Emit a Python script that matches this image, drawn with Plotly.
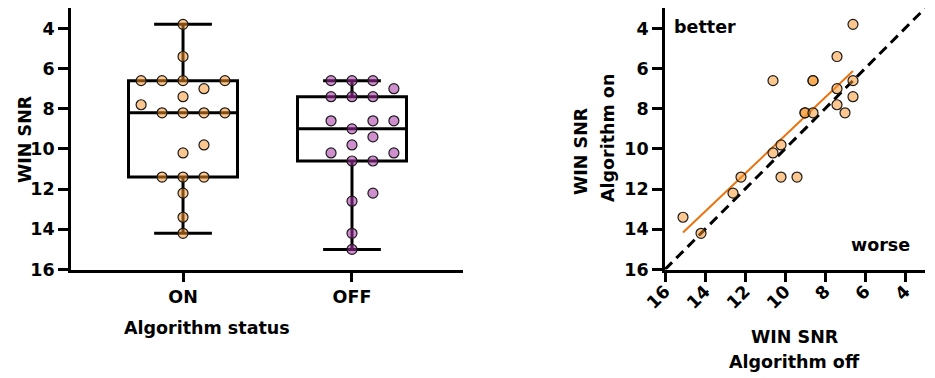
import numpy as np
import plotly.graph_objects as go

# ---------------- data ----------------
categories = ["ON", "OFF"]
on_values = [3.8, 5.4, 6.6, 6.6, 6.6, 6.6, 7.0, 7.4, 7.8, 8.2, 8.2, 8.2, 8.2,
             9.8, 10.2, 11.4, 11.4, 11.4, 12.2, 13.4, 14.2]
off_values = [6.6, 6.6, 6.6, 7.0, 7.4, 7.4, 7.4, 8.6, 8.6, 8.6, 9.0, 9.4, 9.8,
              10.2, 10.2, 10.6, 10.6, 12.2, 12.6, 14.2, 15.0]

# paired scores (x: algorithm off, y: algorithm on)
pair_off = [15.1, 14.2, 12.6, 12.2, 10.6, 10.2, 10.2, 9.4, 10.6, 9.0, 9.0, 8.6,
            8.6, 8.6, 7.4, 7.4, 7.4, 7.0, 6.6, 6.6, 6.6]
pair_on = [13.4, 14.2, 12.2, 11.4, 10.2, 9.8, 11.4, 11.4, 6.6, 8.2, 8.2, 8.2,
           6.6, 6.6, 5.4, 7.0, 7.8, 8.2, 3.8, 6.6, 7.4]

snr_ticks = [4, 6, 8, 10, 12, 14, 16]
identity_ends = [16, 3]

# ---------------- style ----------------
FONT = "DejaVu Sans"
FS = 17.5
ORANGE = "rgba(250,147,39,0.52)"
PURPLE = "rgba(167,48,167,0.54)"
EDGE = "#1a1a1a"
SWARM_STEP = 0.124      # horizontal slot spacing (category units)
SWARM_GAP = 0.55        # min vertical separation in same slot (SNR units)
BOX_WIDTH = 0.645


def swarm_offsets(values, step, gap):
    """Greedy bee-swarm: place points from largest value upward, nearest free slot."""
    vals = np.asarray(values, dtype=float)
    order = sorted(range(len(vals)), key=lambda i: (-vals[i], i))
    cands = [0]
    for k in range(1, 10):
        cands += [k, -k]
    placed = []
    offs = np.zeros(len(vals))
    for i in order:
        v = vals[i]
        for s in cands:
            if all(not (ps == s and abs(pv - v) < gap) for pv, ps in placed):
                placed.append((v, s))
                offs[i] = s * step
                break
    return offs


fig = go.Figure()

groups = [(0, on_values, ORANGE), (1, off_values, PURPLE)]
for pos, vals, col in groups:
    fig.add_trace(go.Box(
        y=vals, x0=pos, width=BOX_WIDTH, boxpoints=False,
        line=dict(color="black", width=3), fillcolor="rgba(0,0,0,0)",
        whiskerwidth=0.53, showlegend=False, hoverinfo="skip",
        xaxis="x", yaxis="y"))

for pos, vals, col in groups:
    offs = swarm_offsets(vals, SWARM_STEP, SWARM_GAP)
    fig.add_trace(go.Scatter(
        x=pos + offs, y=vals, mode="markers",
        marker=dict(size=10, color=col, line=dict(color=EDGE, width=1.2)),
        showlegend=False, xaxis="x", yaxis="y"))

# identity line
fig.add_trace(go.Scatter(
    x=identity_ends, y=identity_ends, mode="lines",
    line=dict(color="black", width=3, dash="10px,6px"),
    showlegend=False, xaxis="x2", yaxis="y2"))

# regression line
px_ = np.array(pair_off)
py_ = np.array(pair_on)
slope, icpt = np.polyfit(px_, py_, 1)
fx = np.array([px_.min(), px_.max()])
fig.add_trace(go.Scatter(
    x=fx, y=slope * fx + icpt, mode="lines",
    line=dict(color="#E8740F", width=2),
    showlegend=False, xaxis="x2", yaxis="y2"))

fig.add_trace(go.Scatter(
    x=pair_off, y=pair_on, mode="markers",
    marker=dict(size=10, color=ORANGE, line=dict(color=EDGE, width=1.2)),
    showlegend=False, xaxis="x2", yaxis="y2"))

W, H = 935, 378
tickfont = dict(family=FONT, size=FS, color="black", weight="bold")
axis_common = dict(showline=True, linecolor="black", linewidth=2.6,
                   ticks="outside", ticklen=10, tickwidth=2.6, tickcolor="black",
                   showgrid=False, zeroline=False, tickfont=tickfont,
                   fixedrange=True, automargin=False)

ydom = [1 - 269.5 / H, 1 - 8.3 / H]

fig.update_layout(
    width=W, height=H,
    margin=dict(l=0, r=0, t=0, b=0),
    paper_bgcolor="white", plot_bgcolor="white",
    xaxis=dict(domain=[71 / W, 463 / W], range=[-0.663, 1.657],
               tickvals=[0, 1], ticktext=categories, **axis_common),
    yaxis=dict(domain=ydom, range=[16, 3], tickvals=snr_ticks, **axis_common),
    xaxis2=dict(domain=[665 / W, 925 / W], range=[16, 3], tickvals=snr_ticks,
                tickangle=-45, anchor="y2", ticklabelstandoff=-8, **axis_common),
    yaxis2=dict(domain=ydom, range=[16, 3], tickvals=snr_ticks, anchor="x2",
                **axis_common),
)


def ann(text, x, y, angle=0):
    fig.add_annotation(text=text, x=x / W, y=1 - y / H, xref="paper", yref="paper",
                       xanchor="center", yanchor="middle", showarrow=False,
                       textangle=angle, font=tickfont)


ann("WIN SNR", 25, 139, -90)
ann("Algorithm status", 207, 328)
ann("WIN SNR", 581, 151, -90)
ann("Algorithm on", 608, 138, -90)
ann("WIN SNR", 795, 337)
ann("Algorithm off", 794, 362)
ann("better", 705, 27)
ann("worse", 880, 245)

fig.write_html("out.html", config={"displayModeBar": False},
               post_script="document.body.style.margin='0';document.body.style.padding='0';")
